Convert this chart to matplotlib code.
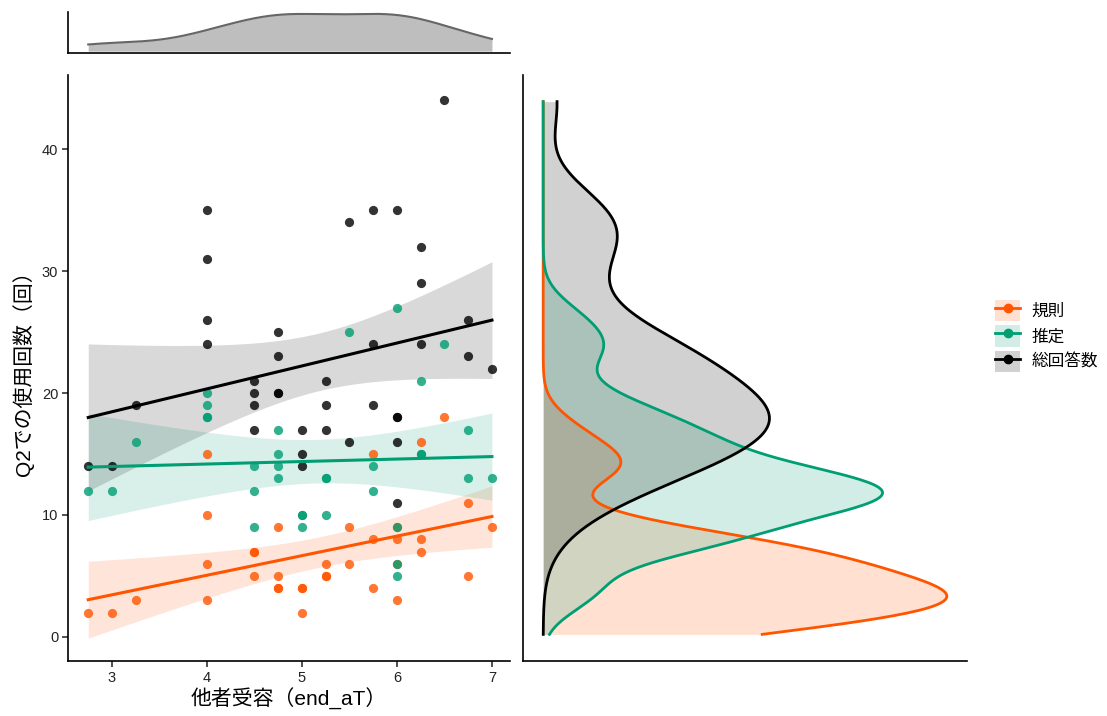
import numpy as np
import matplotlib
matplotlib.use("Agg")
import matplotlib.pyplot as plt
from matplotlib.patches import Patch
from matplotlib.lines import Line2D

plt.rcParams['font.family'] = ['Liberation Sans', 'Noto Sans CJK JP', 'DejaVu Sans']

# 他者受容 (x) と Q2 での使用回数 (y)
x_rule = [2.75, 3, 3.25, 4, 4, 4, 4, 4.5, 4.5, 4.5, 4.75, 4.75, 4.75, 4.75, 5, 5, 5,
          5.25, 5.25, 5.25, 5.5, 5.5, 5.75, 5.75, 5.75, 6, 6, 6, 6, 6.25, 6.25, 6.25,
          6.5, 6.75, 6.75, 7]
y_rule = [2, 2, 3, 15, 10, 6, 3, 7, 7, 5, 9, 5, 4, 4, 4, 4, 2,
          6, 5, 5, 9, 6, 15, 8, 4, 8, 3, 6, 9, 16, 8, 7,
          18, 11, 5, 9]

x_est = [2.75, 3, 3.25, 4, 4, 4, 4, 4.5, 4.5, 4.5, 4.75, 4.75, 4.75, 4.75, 5, 5, 5,
         5.25, 5.25, 5.25, 5.5, 5.75, 5.75, 6, 6, 6, 6, 6.25, 6.25, 6.25,
         6.5, 6.75, 6.75, 7]
y_est = [12, 12, 16, 20, 19, 18, 18, 14, 12, 9, 17, 15, 14, 13, 10, 10, 9,
         13, 13, 10, 25, 14, 12, 27, 9, 6, 5, 21, 15, 15,
         24, 17, 13, 13]

x_total = [2.75, 3, 3.25, 4, 4, 4, 4, 4.5, 4.5, 4.5, 4.5, 4.75, 4.75, 4.75, 4.75,
           5, 5, 5, 5.25, 5.25, 5.25, 5.5, 5.5, 5.75, 5.75, 5.75, 6, 6, 6, 6, 6,
           6.25, 6.25, 6.25, 6.5, 6.75, 6.75, 7]
y_total = [14, 14, 19, 35, 31, 26, 24, 21, 20, 19, 17, 25, 23, 20, 20,
           17, 15, 14, 21, 19, 17, 34, 16, 35, 24, 19, 35, 18, 18, 16, 11,
           32, 29, 24, 44, 26, 23, 22]

labels = ['規則', '推定', '総回答数']
colors = ['#FF5500', '#009E73', '#000000']
series = [(x_rule, y_rule), (x_est, y_est), (x_total, y_total)]


def bw_nrd0(v):
    sd = np.std(v, ddof=1)
    q75, q25 = np.percentile(v, [75, 25])
    return 0.9 * min(sd, (q75 - q25) / 1.34) * len(v) ** -0.2


def kde(v, grid):
    v = np.asarray(v, float)
    bw = bw_nrd0(v)
    z = (grid[:, None] - v[None, :]) / bw
    return np.exp(-0.5 * z ** 2).sum(axis=1) / (len(v) * bw * np.sqrt(2 * np.pi))


def t975(df):
    z = 1.959964
    return z + (z ** 3 + z) / (4 * df) + (5 * z ** 5 + 16 * z ** 3 + 3 * z) / (96 * df ** 2)


def lm_band(x, y, xs):
    x = np.asarray(x, float)
    y = np.asarray(y, float)
    n = len(x)
    b1, b0 = np.polyfit(x, y, 1)
    fit = b0 + b1 * xs
    s = np.sqrt(np.sum((y - (b0 + b1 * x)) ** 2) / (n - 2))
    se = s * np.sqrt(1 / n + (xs - x.mean()) ** 2 / np.sum((x - x.mean()) ** 2))
    t = t975(n - 2)
    return fit, fit - t * se, fit + t * se


W, H = 1107, 716
fig = plt.figure(figsize=(W / 100, H / 100), dpi=100)


def box(l, t, r, b):
    return [l / W, 1 - b / H, (r - l) / W, (b - t) / H]


ax = fig.add_axes(box(68, 75, 510, 661))
ax_top = fig.add_axes(box(68, 12, 510, 53))
ax_right = fig.add_axes(box(523, 75, 967, 661))

# main scatter with linear fits
for (x, y), c in zip(series, colors):
    xs = np.linspace(min(x), max(x), 80)
    fit, lo, hi = lm_band(x, y, xs)
    ax.fill_between(xs, lo, hi, color=c, alpha=0.15, lw=0)
for (x, y), c in zip(series, colors):
    ax.scatter(x, y, s=44, color=c, alpha=0.8, lw=0, zorder=3)
for (x, y), c in zip(series, colors):
    xs = np.linspace(min(x), max(x), 80)
    fit, lo, hi = lm_band(x, y, xs)
    ax.plot(xs, fit, color=c, lw=2.2, zorder=4)

ax.set_xlim(2.537, 7.19)
ax.set_ylim(-1.97, 46.07)
ax.set_xticks([3, 4, 5, 6, 7])
ax.set_yticks([0, 10, 20, 30, 40])
ax.set_xlabel('他者受容（end_aT）', fontsize=15, labelpad=2)
ax.set_ylabel('Q2での使用回数（回）', fontsize=15, labelpad=6)

for a in (ax, ax_top, ax_right):
    a.spines['top'].set_visible(False)
    a.spines['right'].set_visible(False)
    a.spines['left'].set_linewidth(1.2)
    a.spines['bottom'].set_linewidth(1.2)
ax.tick_params(length=4, width=1.1, labelsize=10.5, colors='#222222', pad=3)

# top marginal: x density
all_x = np.asarray(x_total, float)
gx = np.linspace(all_x.min(), all_x.max(), 300)
dx = kde(all_x, gx)
ax_top.fill_between(gx, 0, dx, color='#bebebe', lw=0)
ax_top.plot(gx, dx, color='#666666', lw=1.5)
ax_top.set_xlim(ax.get_xlim())
ax_top.set_ylim(-0.05 * dx.max(), 1.05 * dx.max())
ax_top.set_xticks([])
ax_top.set_yticks([])

# right marginal: y density by group
all_y = np.concatenate([y_rule, y_est, y_total]).astype(float)
gy = np.linspace(all_y.min(), all_y.max(), 400)
dens = [kde(y, gy) for _, y in series]
dmax = max(d.max() for d in dens)
for d, c in zip(dens, colors):
    ax_right.fill_betweenx(gy, 0, d, color=c, alpha=0.18, lw=0)
for d, c in zip(dens, colors):
    ax_right.plot(d, gy, color=c, lw=2)
yr = all_y.max() - all_y.min()
ax_right.set_ylim(all_y.min() - 0.05 * yr, all_y.max() + 0.05 * yr)
ax_right.set_xlim(-0.05 * dmax, 1.05 * dmax)
ax_right.set_xticks([])
ax_right.set_yticks([])

handles = [(Patch(facecolor=c, alpha=0.18, edgecolor='none'),
            Line2D([], [], color=c, lw=2, marker='o', ms=6)) for c in colors]
fig.legend(handles, labels, loc='center left', bbox_to_anchor=(980 / W, 1 - 336 / H),
           frameon=False, fontsize=12, handlelength=1.5, handleheight=1.6,
           labelspacing=0.25, handletextpad=0.7)

fig.savefig('out.png', dpi=100)
